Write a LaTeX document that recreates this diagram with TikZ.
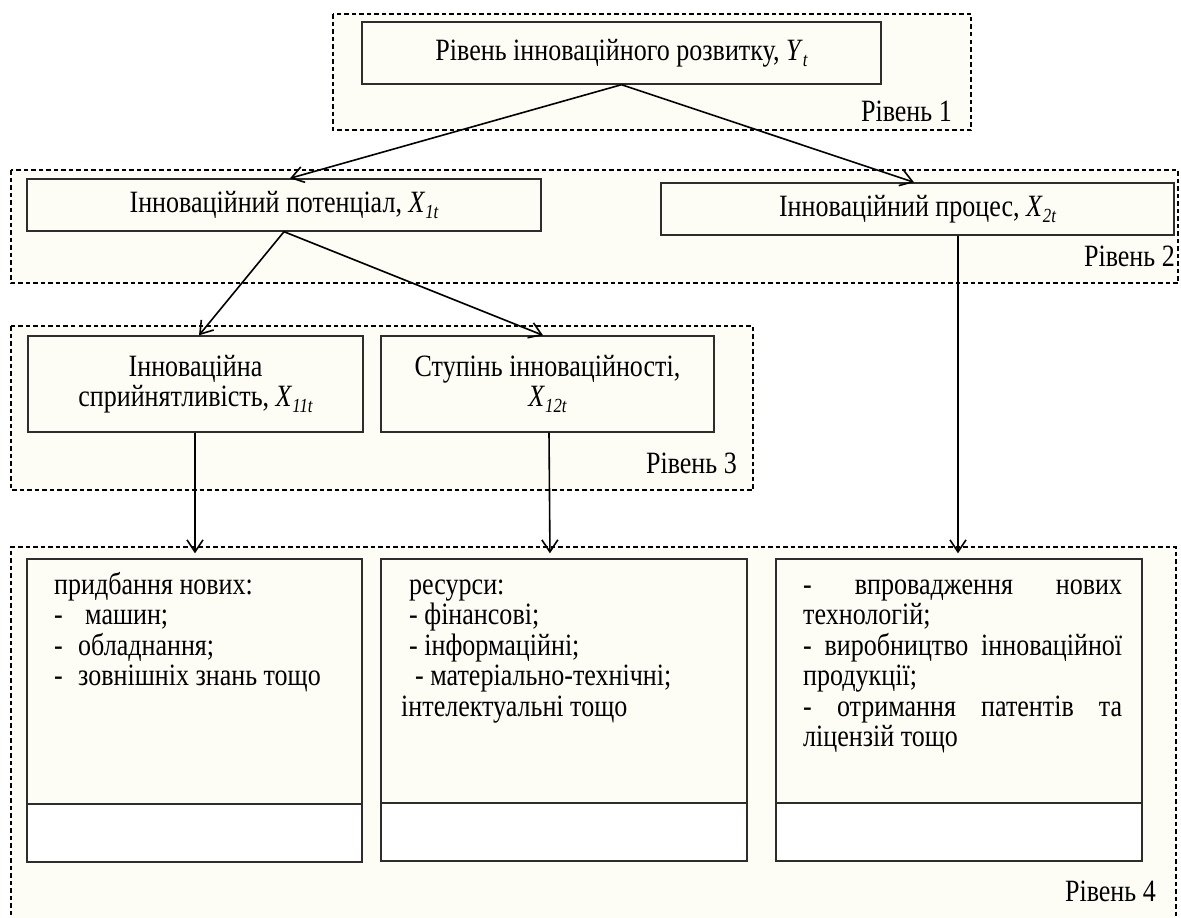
\documentclass[tikz,border=0pt]{standalone}
\usepackage{fontspec}
\setmainfont{Liberation Serif}[FakeStretch=0.84]
\usetikzlibrary{arrows.meta}
\definecolor{ivory}{RGB}{253,253,245}
\definecolor{boxline}{RGB}{45,45,45}
\newcommand{\lowidx}[1]{\raisebox{-0.22em}{\fontsize{20}{20}\selectfont\itshape #1}}
\newcommand{\vr}[2]{\textit{#1}\lowidx{#2}}
\begin{document}
\begin{tikzpicture}[x=1pt,y=-1pt,
  levelframe/.style={draw=black, line width=1.1pt, dash pattern=on 4.5pt off 3pt, fill=ivory},
  hdrbox/.style={draw=boxline, line width=1.4pt, fill=ivory, inner sep=0pt, align=center,
                 font=\fontsize{31}{30}\selectfont},
  upbox/.style={draw=boxline, line width=1.4pt, fill=ivory, inner sep=0pt},
  lowbox/.style={draw=boxline, line width=1.4pt, fill=white, inner sep=0pt},
  conn/.style={line width=1.6pt, -{Straight Barb[length=12pt,width=16pt]}},
  txt/.style={anchor=base west, inner sep=0pt, font=\fontsize{31}{30}\selectfont},
  lbl/.style={anchor=base east, inner sep=0pt, font=\fontsize{31}{30}\selectfont}]
\useasboundingbox (0,0) rectangle (1181,918);
\fill[white] (0,0) rectangle (1181,918);

% level frames
\path[levelframe] (333,14) rectangle (971,130);
\path[levelframe] (11,170) rectangle (1178,283);
\path[levelframe] (11,326) rectangle (753,490);
\fill[ivory] (11,547) rectangle (1176,930);
\draw[levelframe, fill=none] (11,930) -- (11,547) -- (1176,547) -- (1176,930);

% level labels
\node[lbl] (l1) at (952,121) {Рівень 1};
\node[lbl] (l2) at (1175,266) {Рівень 2};
\node[lbl] (l3) at (737,473) {Рівень 3};
\node[lbl] (l4) at (1156,901) {Рівень 4};

% header boxes
\node[hdrbox, minimum width=519pt, minimum height=62pt] (Y) at (621.5,53) {Рівень інноваційного розвитку, \vr{Y}{t}};
\node[hdrbox, minimum width=514pt, minimum height=52pt] (X1) at (284,205) {Інноваційний потенціал, \vr{X}{1t}};
\node[hdrbox, minimum width=513pt, minimum height=52pt] (X2) at (917.5,209) {Інноваційний процес, \vr{X}{2t}};
\node[hdrbox, minimum width=335pt, minimum height=96pt] (X11) at (195.5,384) {Інноваційна\\сприйнятливість, \vr{X}{11t}};
\node[hdrbox, minimum width=333pt, minimum height=96pt] (X12) at (547.5,384) {Ступінь інноваційності,\\\vr{X}{12t}};

% level 4 boxes
\node[upbox, minimum width=335pt, minimum height=245pt] (A1) at (194.5,681.5) {};
\node[lowbox, minimum width=335pt, minimum height=58pt] (A2) at (194.5,833) {};
\node[upbox, minimum width=366pt, minimum height=244pt] (B1) at (564,681) {};
\node[lowbox, minimum width=366pt, minimum height=58pt] (B2) at (564,832) {};
\node[upbox, minimum width=366pt, minimum height=244pt] (C1) at (959,681) {};
\node[lowbox, minimum width=366pt, minimum height=58pt] (C2) at (959,832) {};

% texts of level 4
\node[txt] (a1) at (54,594) {придбання нових:};
\node[txt] (a2) at (54,624.5) {\makebox[31pt][l]{-}машин;};
\node[txt] (a3) at (54,655) {\makebox[24pt][l]{-}обладнання;};
\node[txt] (a4) at (54,685.5) {\makebox[24pt][l]{-}зовнішніх знань тощо};

\node[txt] (b1) at (409,594) {ресурси:};
\node[txt] (b2) at (409,624.5) {- фінансові;};
\node[txt] (b3) at (409,655) {- інформаційні;};
\node[txt] (b4) at (415,685.5) {- матеріально-технічні;};
\node[txt] (b5) at (401,716) {інтелектуальні тощо};

\node[txt] (c1) at (803,594) {\makebox[319pt][s]{- впровадження нових}};
\node[txt] (c2) at (803,624.5) {технологій;};
\node[txt] (c3) at (803,655) {\makebox[319pt][s]{- виробництво інноваційної}};
\node[txt] (c4) at (803,685.5) {продукції;};
\node[txt] (c5) at (803,716) {\makebox[319pt][s]{- отримання патентів та}};
\node[txt] (c6) at (803,746.5) {ліцензій тощо};

% connectors
\coordinate (x2out) at ([xshift=40.5pt]X2.south);
\coordinate (x11out) at ([xshift=-0.5pt]X11.south);
\coordinate (b1in) at ([xshift=-14pt]B1.north);
\draw[conn] (Y.south) -- ([xshift=6pt]X1.north);
\draw[conn] (Y.south) -- ([xshift=-3.5pt]X2.north);
\draw[conn] (X1.south) -- ([xshift=3.5pt]X11.north);
\draw[conn] (X1.south) -- ([xshift=-4.5pt]X12.north);
\draw[conn, shorten >=5pt] (x11out) -- (x11out |- A1.north);
\draw[conn, shorten >=5pt] ([xshift=1.5pt]X12.south) -- (b1in);
\draw[conn, shorten >=5pt] (x2out) -- (x2out |- C1.north);
\end{tikzpicture}
\end{document}
